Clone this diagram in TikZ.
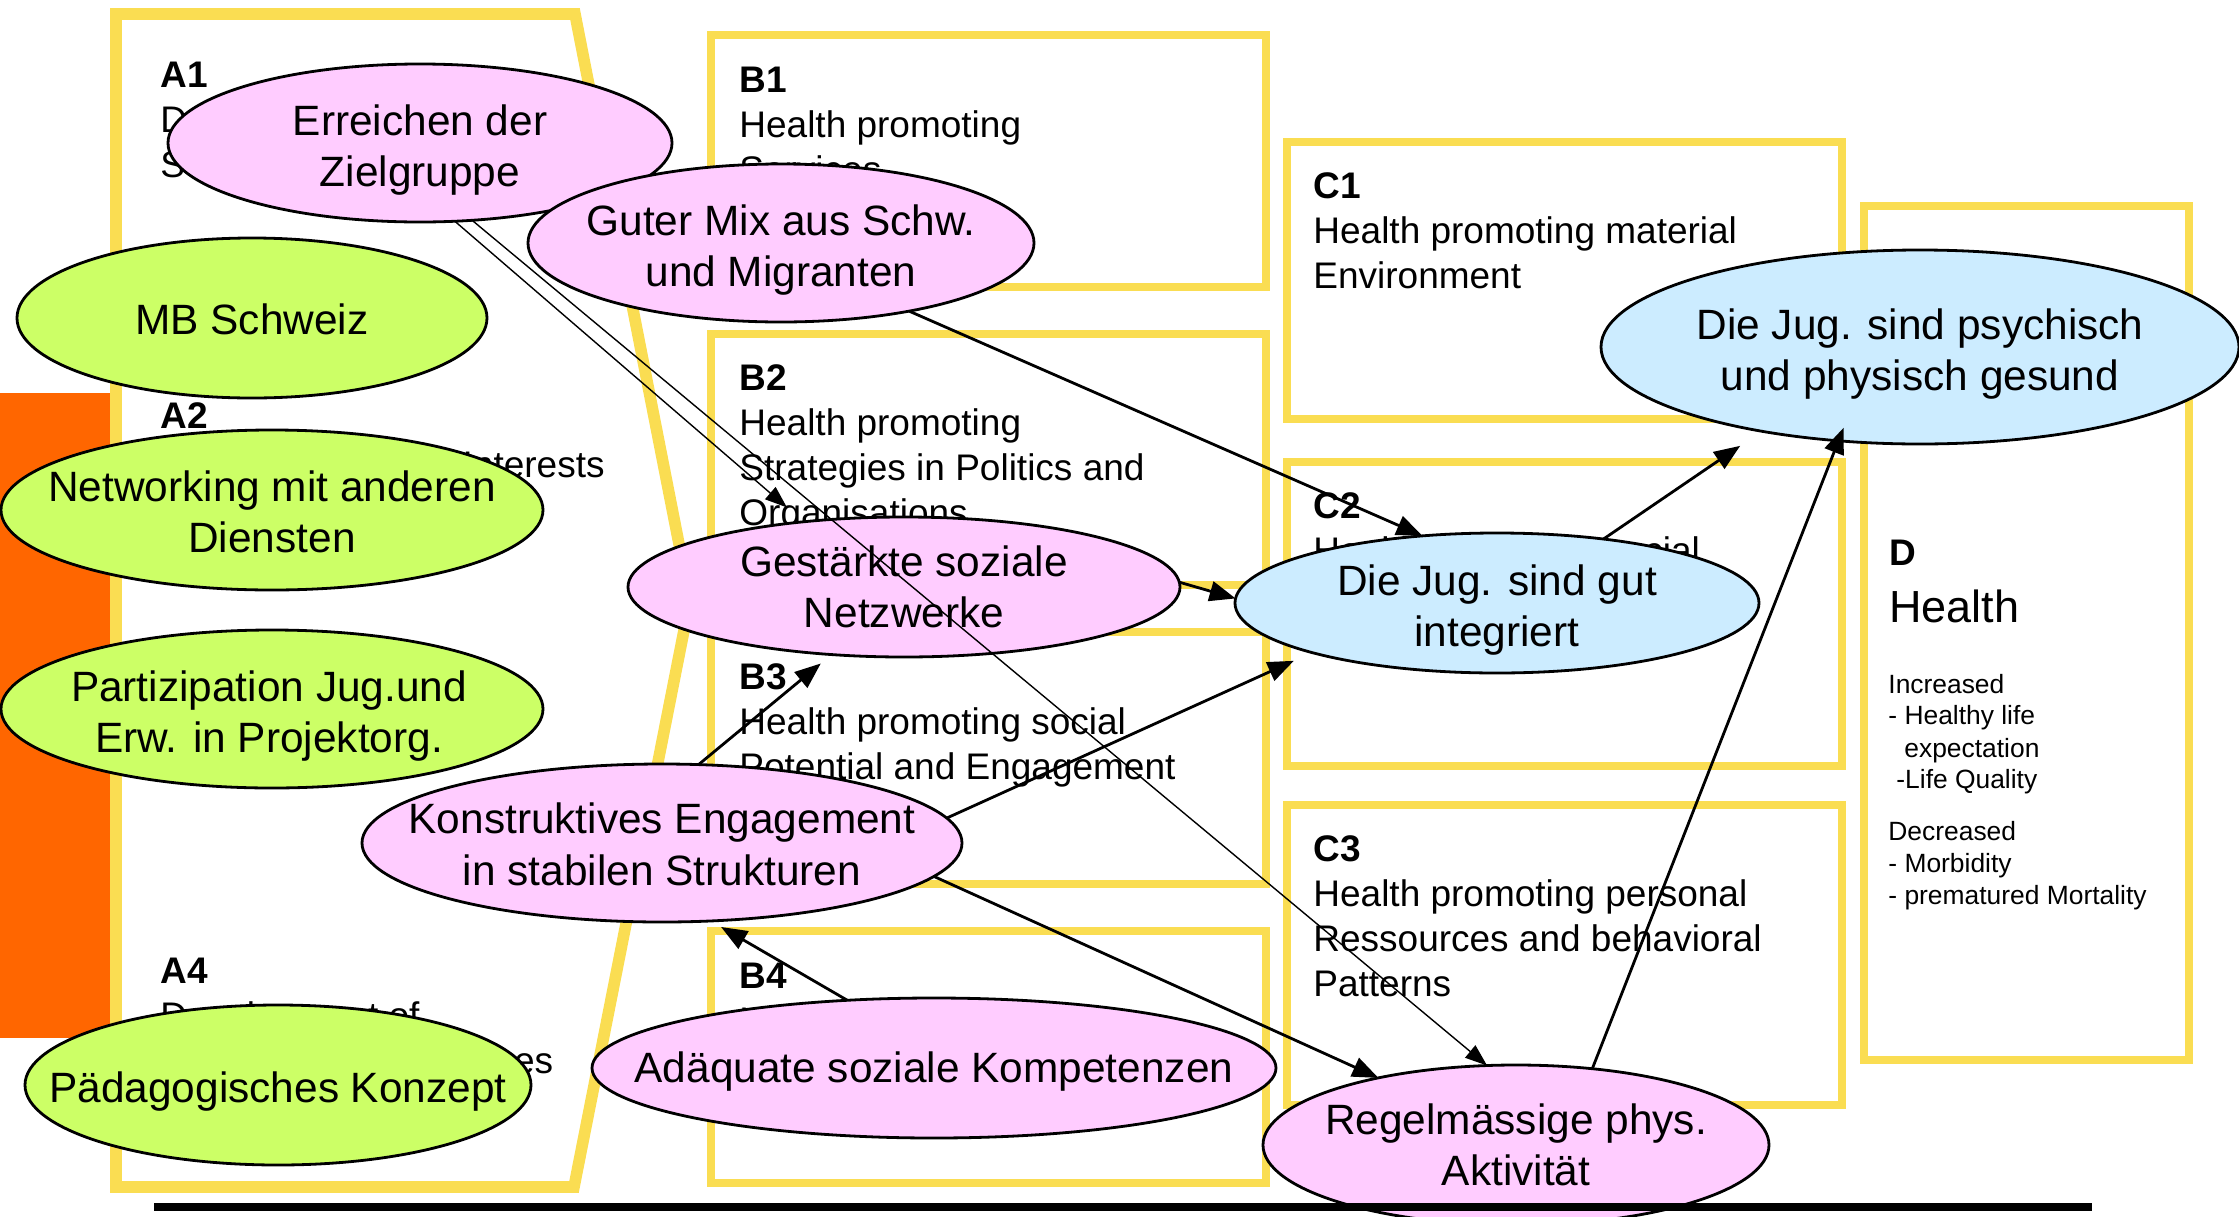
\documentclass[tikz,border=0pt]{standalone}
\usepackage{fontspec}
\setmainfont{Liberation Sans}
\usetikzlibrary{arrows.meta,shapes.geometric}

\definecolor{frameyellow}{RGB}{250,221,82}
\definecolor{orangebar}{RGB}{255,102,0}
\definecolor{ellpink}{RGB}{255,204,255}
\definecolor{ellgreen}{RGB}{204,255,102}
\definecolor{ellblue}{RGB}{204,236,255}

\newcommand{\boxfont}{\fontsize{18.5}{22.5}\selectfont}
\newcommand{\ellfont}{\fontsize{21.2}{25.7}\selectfont}
\newcommand{\healthfont}{\fontsize{22.5}{27}\selectfont}
\newcommand{\smallfont}{\fontsize{13.2}{16}\selectfont}

\begin{document}
\begin{tikzpicture}[x=0.5pt,y=-0.5pt,
  ybox/.style={draw=frameyellow, line width=4pt},
  aframe/.style={draw=frameyellow, line width=5.8pt, line join=miter},
  lbl/.style={anchor=base west, inner sep=0pt, font=\boxfont\bfseries},
  txt/.style={anchor=base west, inner sep=0pt, font=\boxfont},
  dtxt/.style={anchor=base west, inner sep=0pt, font=\smallfont},
  ell/.style={ellipse, draw=black, line width=1.4pt, inner sep=0pt, outer sep=0pt},
  pinkell/.style={ell, fill=ellpink},
  greenell/.style={ell, fill=ellgreen},
  blueell/.style={ell, fill=ellblue},
  etxt/.style={align=center, font=\ellfont, inner sep=0pt},
  conn/.style={line width=1.4pt, -{Triangle[length=13pt,width=10pt]}},
  thinconn/.style={line width=0.7pt, -{Triangle[length=11pt,width=8pt]}},
]
\useasboundingbox (0,0) rectangle (2239,1216);
\clip (0,0) rectangle (2239,1216);

% orange bar
\fill[orangebar] (0,393) rectangle (110,1038);

% A frame
\draw[aframe] (116,14) -- (575,14) -- (690,600) -- (574,1187) -- (116,1187) -- cycle;

% B boxes
\draw[ybox] (711,35) rectangle (1266,287);
\draw[ybox] (711,334) rectangle (1266,585);
\draw[ybox] (711,632) rectangle (1266,884);
\draw[ybox] (711,931) rectangle (1266,1183);
% C boxes
\draw[ybox] (1287,142) rectangle (1842,419);
\draw[ybox] (1287,462) rectangle (1842,766);
\draw[ybox] (1287,805) rectangle (1842,1105);
% D box
\draw[ybox] (1864,206) rectangle (2189,1060);

% A texts
\node[lbl] (a1l) at (160,87) {A1};
\node[txt] (a1t1) at (160,132) {Development of};
\node[txt] (a1t2) at (160,177) {Services};
\node[lbl] (a2l) at (160,428) {A2};
\node[txt] (a2t1) at (160,477) {Representation of Interests};
\node[lbl] (a4l) at (160,983) {A4};
\node[txt] (a4t1) at (160,1028) {Development of};
\node[txt] (a4t2) at (160,1073) {individual Competences};

% B texts
\node[lbl] (b1l) at (739,92) {B1};
\node[txt] (b1t1) at (739,137) {Health promoting};
\node[txt] (b1t2) at (739,182) {Services};
\node[lbl] (b2l) at (739,390) {B2};
\node[txt] (b2t1) at (739,435) {Health promoting};
\node[txt] (b2t2) at (739,480) {Strategies in Politics and};
\node[txt] (b2t3) at (739,525) {Organisations};
\node[lbl] (b3l) at (739,689) {B3};
\node[txt] (b3t1) at (739,734) {Health promoting social};
\node[txt] (b3t2) at (739,779) {Potential and Engagement};
\node[lbl] (b4l) at (739,988) {B4};
\node[txt] (b4t1) at (739,1033) {Health promoting};
\node[txt] (b4t2) at (739,1078) {individual Competences};

% C texts
\node[lbl] (c1l) at (1313,198) {C1};
\node[txt] (c1t1) at (1313,243) {Health promoting material};
\node[txt] (c1t2) at (1313,288) {Environment};
\node[lbl] (c2l) at (1313,518) {C2};
\node[txt] (c2t1) at (1313,563) {Health promoting social};
\node[txt] (c2t2) at (1313,608) {Environment};
\node[lbl] (c3l) at (1313,861) {C3};
\node[txt] (c3t1) at (1313,906) {Health promoting personal};
\node[txt] (c3t2) at (1313,951) {Ressources and behavioral};
\node[txt] (c3t3) at (1313,996) {Patterns};

% D texts
\node[lbl] (dl) at (1889,565) {D};
\node[anchor=base west, inner sep=0pt, font=\healthfont] (dh) at (1889,622) {Health};
\node[dtxt] (d1) at (1888,693) {Increased};
\node[dtxt] (d2) at (1888,724.5) {- Healthy life};
\node[dtxt] (d3) at (1904,757) {expectation};
\node[dtxt] (d4) at (1896,788) {-Life Quality};
\node[dtxt] (d5) at (1888,840.6) {Decreased};
\node[dtxt] (d6) at (1888,872) {- Morbidity};
\node[dtxt] (d7) at (1888,904) {- prematured Mortality};

% ellipses
\node[pinkell, minimum width=252pt, minimum height=79pt] (erreichen) at (420,143) {};
\node[etxt, yshift=-3.5pt] (erreichenT) at (erreichen) {Erreichen der\\Zielgruppe};
\node[pinkell, minimum width=253pt, minimum height=79pt] (guter) at (781,243) {};
\node[etxt, yshift=-3.5pt] (guterT) at (guter) {Guter Mix aus Schw.\\und Migranten};
\node[greenell, minimum width=235pt, minimum height=80pt] (mbs) at (252,318) {};
\node[etxt, yshift=-0.7pt] (mbsT) at (mbs) {MB Schweiz};
\node[greenell, minimum width=271pt, minimum height=80pt] (networking) at (272,510) {};
\node[etxt, yshift=-1pt] (networkingT) at (networking) {Networking mit anderen\\Diensten};
\node[greenell, minimum width=271pt, minimum height=79pt] (partiz) at (272,709) {};
\node[etxt, yshift=-3.5pt, xshift=-1.5pt] (partizT) at (partiz) {Partizipation Jug.und\\Erw. in Projektorg.};
\node[greenell, minimum width=253pt, minimum height=80pt] (paed) at (278,1085) {};
\node[etxt, yshift=-3.5pt] (paedT) at (paed) {Pädagogisches Konzept};
\node[pinkell, minimum width=276pt, minimum height=70pt] (gest) at (904,587) {};
\node[etxt] (gestT) at (gest) {Gestärkte soziale\\Netzwerke};
\node[pinkell, minimum width=300pt, minimum height=79pt] (konstr) at (662,843) {};
\node[etxt, yshift=-0.7pt] (konstrT) at (konstr) {Konstruktives Engagement\\in stabilen Strukturen};
\node[pinkell, minimum width=342pt, minimum height=70pt] (adaeq) at (934,1068) {};
\node[etxt, yshift=-2pt] (adaeqT) at (adaeq) {Adäquate soziale Kompetenzen};
\node[blueell, minimum width=262pt, minimum height=70pt] (gut) at (1497,603) {};
\node[etxt, yshift=-3.5pt] (gutT) at (gut) {Die Jug. sind gut\\integriert};
\node[blueell, minimum width=319pt, minimum height=97pt] (psych) at (1920,347) {};
\node[etxt, yshift=-3.5pt] (psychT) at (psych) {Die Jug. sind psychisch\\und physisch gesund};
\node[pinkell, minimum width=253pt, minimum height=80pt] (regel) at (1516,1145) {};
\node[etxt] (regelT) at (regel) {Regelmässige phys.\\Aktivität};

% connectors
\draw[conn] (guter.-28.6) -- (gut.138);
\draw[conn] (gest.1) -- (gut.179);
\draw[conn, shorten >=10pt] (konstr.5.7) -- (gut.195);
\draw[conn, shorten >=7pt] (konstr.65.5) -- (gest.223.6);
\draw[conn] (konstr.-7.9) -- (regel.154.8);
\draw[conn, shorten >=6pt] (adaeq.142) -- (konstr.-58.3);
\draw[conn, shorten >=13pt] (gut.31) -- (psych.208.7);
\draw[conn, shorten >=-7pt] (regel.45.4) -- (psych.229.6);
\draw[thinconn, shorten >=11pt] (erreichen.-66) -- (gest.147.7);
\draw[thinconn] (erreichen.-56.7) -- (regel.110.7);

% bottom rule
\draw[line width=4pt] (154,1207) -- (2092,1207);
\end{tikzpicture}
\end{document}
